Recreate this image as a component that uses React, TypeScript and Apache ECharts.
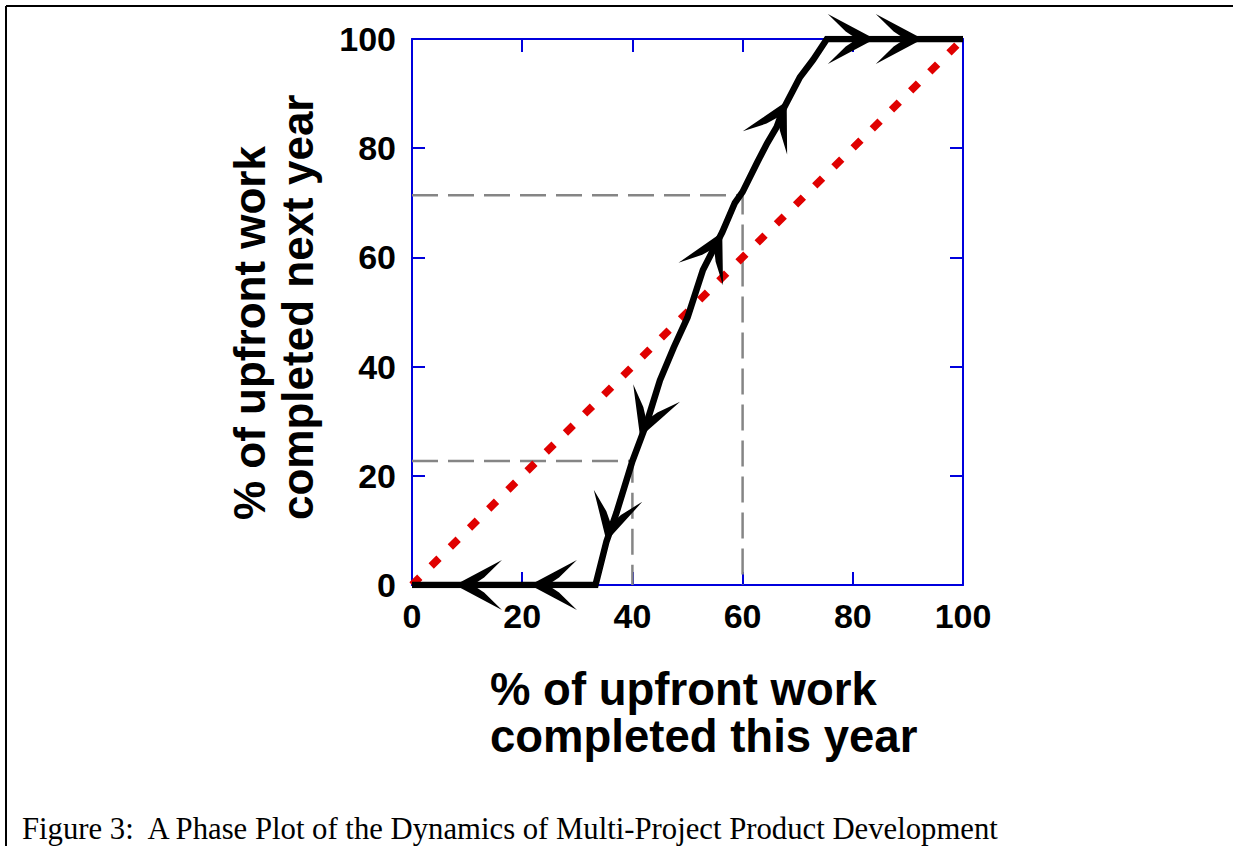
import React, { useEffect, useRef } from "react";
import * as echarts from "echarts";

// ---- data ----
const curveX = [0, 33.3, 35.3, 37.1, 40, 42.6, 45, 47.5, 50, 52.8, 56.3, 58.6, 60, 62.6, 64.5, 66.2, 67.3, 70.4, 72.8, 75.3, 100];
const curveY = [0, 0, 8, 13.2, 22.7, 29.7, 37.5, 43.5, 49, 57.7, 64.6, 70, 72, 77.3, 81, 83.9, 87, 93, 96.2, 100, 100];
const diagX = [0, 100];
const diagY = [0, 100];
const guideX = [40, 60];
const guideY = [22.7, 71.4];
const arrowX = [7.8, 21.4, 35.3, 41.4, 56.3, 68.0, 84.0, 92.7];
const arrowY = [0, 0, 8, 27.1, 64.6, 88.6, 100, 100];
const arrowDir = [-1, -1, -1, -1, 1, 1, 1, 1];
const axisMin = 0;
const axisMax = 100;
const axisStep = 20;
const xTitle = ["% of upfront work", "completed this year"];
const yTitle = ["% of upfront work", "completed next year"];
const caption = "Figure 3:  A Phase Plot of the Dynamics of Multi-Project Product Development";

const BLUE = "#0000dd";
const SANS = "'Liberation Sans', Arial, Helvetica, sans-serif";
const SERIF = "'Liberation Serif', 'Times New Roman', serif";

function segDist(p: number[], a: number[], b: number[]) {
  const dx = b[0] - a[0];
  const dy = b[1] - a[1];
  const len2 = dx * dx + dy * dy || 1;
  let t = ((p[0] - a[0]) * dx + (p[1] - a[1]) * dy) / len2;
  t = Math.max(0, Math.min(1, t));
  const qx = a[0] + t * dx - p[0];
  const qy = a[1] + t * dy - p[1];
  return Math.sqrt(qx * qx + qy * qy);
}

export default function App() {
  const ref = useRef<HTMLDivElement>(null);

  useEffect(() => {
    if (!ref.current) return;
    const chart = echarts.init(ref.current, null, { renderer: "svg" });

    const axisCommon = {
      type: "value" as const,
      min: axisMin,
      max: axisMax,
      interval: axisStep,
      splitLine: { show: false },
      axisLine: { show: true, onZero: false, lineStyle: { color: BLUE, width: 2 } },
      axisTick: { show: true, inside: true, length: 13, lineStyle: { color: BLUE, width: 2 } },
    };
    const labelStyle = {
      color: "#000",
      fontFamily: SANS,
      fontWeight: "bold" as const,
      fontSize: 34,
    };

    const guideSeries = guideX.map((gx, i) => ({
      type: "line",
      data: [
        [axisMin, guideY[i]],
        [gx, guideY[i]],
        [gx, axisMin],
      ],
      symbol: "none",
      silent: true,
      z: 1,
      lineStyle: { color: "#858585", width: 2.5, type: [26, 10] },
    }));

    chart.setOption({
      animation: false,
      grid: { left: 412, right: 270, top: 39, bottom: 261, containLabel: false },
      xAxis: [
        { ...axisCommon, position: "bottom", axisLabel: { ...labelStyle, margin: 14 } },
        { ...axisCommon, position: "top", axisLabel: { show: false } },
      ],
      yAxis: [
        { ...axisCommon, position: "left", axisLabel: { ...labelStyle, margin: 16 } },
        { ...axisCommon, position: "right", axisLabel: { show: false } },
      ],
      graphic: [
        { type: "line", shape: { x1: 6, y1: 6, x2: 1233, y2: 6 }, style: { stroke: "#000", lineWidth: 2 } },
        { type: "line", shape: { x1: 6, y1: 6, x2: 6, y2: 846 }, style: { stroke: "#000", lineWidth: 2 } },
        {
          type: "text",
          x: 490,
          y: 713,
          style: {
            text: xTitle.join("\n"),
            fontFamily: SANS,
            fontWeight: "bold",
            fontSize: 45.5,
            fill: "#000",
            align: "left",
            verticalAlign: "middle",
            lineHeight: 47,
          },
        },
        {
          type: "text",
          x: 273,
          y: 520,
          rotation: Math.PI / 2,
          style: {
            text: yTitle.join("\n"),
            fontFamily: SANS,
            fontWeight: "bold",
            fontSize: 44,
            fill: "#000",
            align: "left",
            verticalAlign: "middle",
            lineHeight: 48,
          },
        },
        {
          type: "text",
          x: 22,
          y: 828,
          scaleX: 0.96,
          style: {
            text: caption,
            fontFamily: SERIF,
            fontSize: 32,
            fontWeight: "normal",
            fontStyle: "normal",
            fill: "#000",
            align: "left",
            verticalAlign: "middle",
          },
        },
      ],
      series: [
        ...guideSeries,
        {
          type: "line",
          data: diagX.map((x, i) => [x, diagY[i]]),
          symbol: "none",
          silent: true,
          z: 2,
          lineStyle: { color: "#e00000", width: 7.5, type: [11, 16], cap: "butt" },
        },
        {
          type: "line",
          data: curveX.map((x, i) => [x, curveY[i]]),
          symbol: "none",
          silent: true,
          z: 3,
          lineStyle: { color: "#000", width: 6.5, join: "miter", cap: "butt" },
        },
        {
          type: "custom",
          z: 4,
          silent: true,
          clip: false,
          data: arrowX.map((x, i) => [x, arrowY[i], arrowDir[i]]),
          encode: { x: 0, y: 1 },
          renderItem: (_params: any, api: any) => {
            const tip = api.coord([api.value(0), api.value(1)]);
            const dir = api.value(2);
            const pts = curveX.map((x, k) => api.coord([x, curveY[k]]));
            let best = 0;
            let bestD = Infinity;
            for (let k = 0; k < pts.length - 1; k++) {
              const d = segDist(tip, pts[k], pts[k + 1]);
              if (d < bestD) {
                bestD = d;
                best = k;
              }
            }
            let ux = pts[best + 1][0] - pts[best][0];
            let uy = pts[best + 1][1] - pts[best][1];
            const len = Math.sqrt(ux * ux + uy * uy) || 1;
            ux = (ux / len) * dir;
            uy = (uy / len) * dir;
            const nx = -uy;
            const ny = ux;
            const L = 47;
            const W = 25;
            const P = (a: number, b: number) => [tip[0] + ux * a + nx * b, tip[1] + uy * a + ny * b];
            const points = [
              P(0, 0),
              P(-0.5 * L, 0.5 * W),
              P(-L, W),
              P(-0.62 * L, 0.3 * W),
              P(-0.38 * L, 0),
              P(-0.62 * L, -0.3 * W),
              P(-L, -W),
              P(-0.5 * L, -0.5 * W),
            ];
            return { type: "polygon", shape: { points }, style: { fill: "#000" } };
          },
        },
      ],
    });

    return () => chart.dispose();
  }, []);

  return (
    <div
      ref={ref}
      style={{ position: "absolute", left: 0, top: 0, width: 1233, height: 846, background: "#fff" }}
    />
  );
}
